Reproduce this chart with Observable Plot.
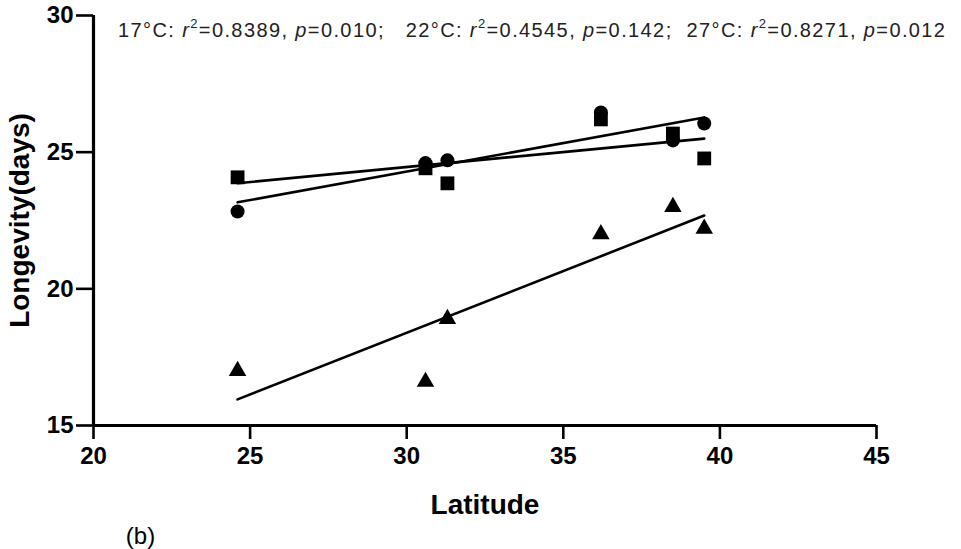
<!DOCTYPE html>
<html>
<head>
<meta charset="utf-8">
<script src="https://cdn.jsdelivr.net/npm/d3@7"></script>
<script src="https://cdn.jsdelivr.net/npm/@observablehq/plot@0.6"></script>
<style>
  html, body { margin: 0; padding: 0; background: #fff; }
  #chart { width: 961px; height: 549px; }
</style>
</head>
<body>
<div id="chart"></div>
<script>
// Latitude of populations
const latitude = [24.6, 30.6, 31.3, 36.2, 38.5, 39.5];
// Longevity (days) at each temperature
const longevity17 = [22.83, 24.6, 24.7, 26.45, 25.43, 26.05];   // circles
const longevity22 = [24.08, 24.41, 23.86, 26.2, 25.68, 24.77];  // squares
const longevity27 = [17.0, 16.6, 18.9, 22.0, 23.0, 22.2];       // triangles
const xTicks = [20, 25, 30, 35, 40, 45];
const yTicks = [15, 20, 25, 30];
const statLabels = [
  {temp: "17°C: ", r2: "0.8389", p: "0.010;   "},
  {temp: "22°C: ", r2: "0.4545", p: "0.142;  "},
  {temp: "27°C: ", r2: "0.8271", p: "0.012"}
];

const d17 = latitude.map((x, i) => ({x, y: longevity17[i]}));
const d22 = latitude.map((x, i) => ({x, y: longevity22[i]}));
const d27 = latitude.map((x, i) => ({x, y: longevity27[i]}));

const font = "'Liberation Sans', Arial, sans-serif";

const plot = Plot.plot({
  width: 961,
  height: 549,
  marginLeft: 93,
  marginRight: 85,
  marginTop: 15,
  marginBottom: 124,
  style: {fontFamily: font, color: "#000", background: "#fff"},
  x: {domain: [20, 45]},
  y: {domain: [15, 30]},
  marks: [
    Plot.axisX({ticks: xTicks, tickSize: 14, tickPadding: 7, strokeWidth: 2.6, fontSize: 24, fontWeight: "bold", label: null}),
    Plot.axisY({ticks: yTicks, tickSize: 17, tickPadding: 3, strokeWidth: 2.6, fontSize: 24, fontWeight: "bold", label: null}),
    Plot.ruleY([15], {strokeWidth: 3.2}),
    Plot.ruleX([20], {strokeWidth: 3.2}),
    Plot.linearRegressionY(d17, {x: "x", y: "y", ci: 0, stroke: "black", strokeWidth: 2.6}),
    Plot.linearRegressionY(d22, {x: "x", y: "y", ci: 0, stroke: "black", strokeWidth: 2.6}),
    Plot.linearRegressionY(d27, {x: "x", y: "y", ci: 0, stroke: "black", strokeWidth: 2.6}),
    Plot.dot(d17, {x: "x", y: "y", symbol: "circle", r: 7, fill: "black"}),
    Plot.dot(d22, {x: "x", y: "y", symbol: "square", r: 7.8, fill: "black"}),
    Plot.dot(d27, {x: "x", y: "y", symbol: "triangle", r: 6.5, fill: "black"}),
    Plot.text(["Latitude"], {frameAnchor: "bottom", textAnchor: "middle", lineAnchor: "bottom", dy: 88, fontSize: 28, fontWeight: "bold"}),
    Plot.text(["Longevity(days)"], {frameAnchor: "left", textAnchor: "middle", lineAnchor: "bottom", dx: -65, rotate: -90, fontSize: 28, fontWeight: "bold"}),
    Plot.text(["(b)"], {frameAnchor: "bottom-left", textAnchor: "middle", lineAnchor: "bottom", dx: 47, dy: 118, fontSize: 24})
  ]
});

// Statistics annotation with italic r / p and superscript 2
const svg = d3.select(plot);
const t = svg.append("text")
  .attr("x", 118).attr("y", 37)
  .attr("font-family", font)
  .attr("font-size", 20)
  .attr("fill", "#222")
  .attr("text-anchor", "start")
  .attr("textLength", 827)
  .attr("lengthAdjust", "spacing")
  .style("white-space", "pre");
statLabels.forEach(s => {
  t.append("tspan").text(s.temp);
  t.append("tspan").attr("font-style", "italic").text("r");
  t.append("tspan").attr("font-size", 13).attr("dy", -9).text("2");
  t.append("tspan").attr("dy", 9).text("=" + s.r2 + ", ");
  t.append("tspan").attr("font-style", "italic").text("p");
  t.append("tspan").text("=" + s.p);
});

document.getElementById("chart").appendChild(plot);
</script>
</body>
</html>
